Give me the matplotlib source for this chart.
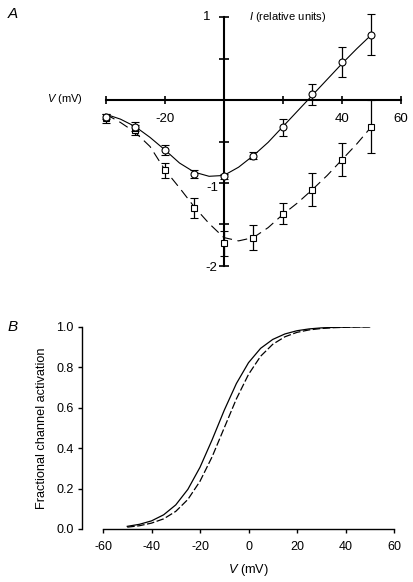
import numpy as np
import matplotlib
matplotlib.use("Agg")
import matplotlib.pyplot as plt

plt.rcParams['font.family'] = ['Liberation Sans', 'DejaVu Sans']
plt.rcParams['mathtext.fontset'] = 'custom'
plt.rcParams['mathtext.rm'] = 'Liberation Sans'
plt.rcParams['mathtext.it'] = 'Liberation Sans:italic'
plt.rcParams['axes.unicode_minus'] = False

# ------------------------------------
# Panel A: I-V data (relative units)
# ------------------------------------
volt = [-40, -30, -20, -10, 0, 10, 20, 30, 40, 50]
i_circ = [-0.20, -0.32, -0.60, -0.89, -0.92, -0.67, -0.33, 0.07, 0.46, 0.79]
e_circ = [0.03, 0.05, 0.06, 0.05, 0.03, 0.045, 0.10, 0.13, 0.18, 0.25]
i_sq = [-0.22, -0.36, -0.85, -1.30, -1.73, -1.66, -1.37, -1.08, -0.72, -0.32]
e_sq = [0.055, 0.065, 0.095, 0.12, 0.15, 0.155, 0.13, 0.20, 0.20, 0.32]

# fitted curves every 5 mV
fit_v = [-40, -35, -30, -25, -20, -15, -10, -5, 0, 5, 10,
         15, 20, 25, 30, 35, 40, 45, 50]
fit_circ = [-0.17, -0.23, -0.32, -0.45, -0.60, -0.76, -0.87, -0.92, -0.91, -0.81,
            -0.67, -0.51, -0.32, -0.13, 0.06, 0.25, 0.44, 0.62, 0.79]
fit_sq = [-0.17, -0.27, -0.39, -0.56, -0.84, -1.06, -1.29, -1.49, -1.66, -1.70,
          -1.66, -1.54, -1.38, -1.24, -1.08, -0.91, -0.72, -0.53, -0.32]

# ------------------------------------
# Panel B: activation curves
# ------------------------------------
act_v = [-50, -45, -40, -35, -30, -25, -20, -15, -10, -5, 0,
         5, 10, 15, 20, 25, 30, 35, 40, 45, 50]
act_solid = [0.013, 0.023, 0.040, 0.070, 0.119, 0.196, 0.305, 0.441, 0.587, 0.719, 0.822,
             0.893, 0.937, 0.964, 0.980, 0.989, 0.994, 0.9965, 0.998, 0.999, 0.9994]
act_dash = [0.009, 0.016, 0.029, 0.050, 0.087, 0.146, 0.236, 0.357, 0.500, 0.643, 0.764,
            0.854, 0.913, 0.950, 0.972, 0.984, 0.991, 0.995, 0.997, 0.9985, 0.999]

fig = plt.figure(figsize=(4.14, 5.82), dpi=100)

# ------------------------------------
# Panel A
# ------------------------------------
ax = fig.add_axes([0.2411, 0.5292, 0.7418, 0.4553])
ax.set_xlim(-42, 62)
ax.set_ylim(-2.1, 1.1)
for s in ['top', 'right']:
    ax.spines[s].set_visible(False)
ax.spines['bottom'].set_position(('data', 0))
ax.spines['left'].set_position(('data', 0))
ax.spines['bottom'].set_bounds(-40, 60)
ax.spines['left'].set_bounds(-2, 1)
ax.spines['bottom'].set_linewidth(1.5)
ax.spines['left'].set_linewidth(1.5)
ax.set_xticks([-40, -20, 0, 20, 40, 60])
ax.set_yticks([-2, -1.5, -1, -0.5, 0, 0.5, 1])
ax.tick_params(axis='x', direction='inout', length=6, width=1.2, labelbottom=False)
ax.tick_params(axis='y', direction='inout', length=7, width=1.2, labelleft=False)

for xv in [-20, 40, 60]:
    ax.text(xv, -0.23, str(xv), ha='center', va='center', fontsize=9.5)
ax.text(-4.7, 1.0, '1', ha='right', va='center', fontsize=9.5)
ax.text(-2.0, -1.06, '-1', ha='right', va='center', fontsize=9.5)
ax.text(-2.4, -2.03, '-2', ha='right', va='center', fontsize=9.5)

ax.plot(fit_v, fit_circ, color='black', lw=0.8, zorder=2)
ax.plot(fit_v, fit_sq, color='black', lw=0.8, dashes=(9, 5), zorder=2)
ax.errorbar(volt, i_sq, yerr=e_sq, fmt='s', ms=4.5, mfc='white', mec='black',
            mew=0.8, ecolor='black', elinewidth=0.9, capsize=3, capthick=0.9, zorder=3)
ax.errorbar(volt, i_circ, yerr=e_circ, fmt='o', ms=5, mfc='white', mec='black',
            mew=0.8, ecolor='black', elinewidth=0.9, capsize=3, capthick=0.9, zorder=4)

fig.text(83 / 414, 1 - 99 / 582, r'$\mathit{V}$ (mV)', ha='right', va='center', fontsize=8)
fig.text(249 / 414, 1 - 17 / 582, r'$\mathit{I}$ (relative units)', ha='left', va='center', fontsize=8)
fig.text(8 / 414, 1 - 14 / 582, 'A', ha='left', va='center', fontsize=11, style='italic')

# ------------------------------------
# Panel B
# ------------------------------------
bx = fig.add_axes([0.2488, 0.0911, 0.7029, 0.3476])
bx.set_xlim(-60, 60)
bx.set_ylim(0, 1)
for s in ['top', 'right']:
    bx.spines[s].set_visible(False)
bx.spines['left'].set_position(('outward', 15))
bx.spines['left'].set_linewidth(1.0)
bx.spines['bottom'].set_linewidth(1.0)
bx.set_xticks([-60, -40, -20, 0, 20, 40, 60])
bx.set_yticks([0.0, 0.2, 0.4, 0.6, 0.8, 1.0])
bx.set_yticklabels(['0.0', '0.2', '0.4', '0.6', '0.8', '1.0'])
bx.tick_params(direction='out', length=3, width=1.0, labelsize=9, pad=3)
bx.tick_params(axis='x', pad=6)

bx.plot(act_v, act_solid, color='black', lw=0.9)
bx.plot(act_v, act_dash, color='black', lw=0.9, dashes=(6, 2))

bx.set_xlabel(r'$\mathit{V}$ (mV)', fontsize=9.2, labelpad=6)
bx.set_ylabel('Fractional channel activation', fontsize=9.2, labelpad=6)
fig.text(8 / 414, 1 - 327 / 582, 'B', ha='left', va='center', fontsize=11, style='italic')

fig.savefig('out.png', dpi=100)
